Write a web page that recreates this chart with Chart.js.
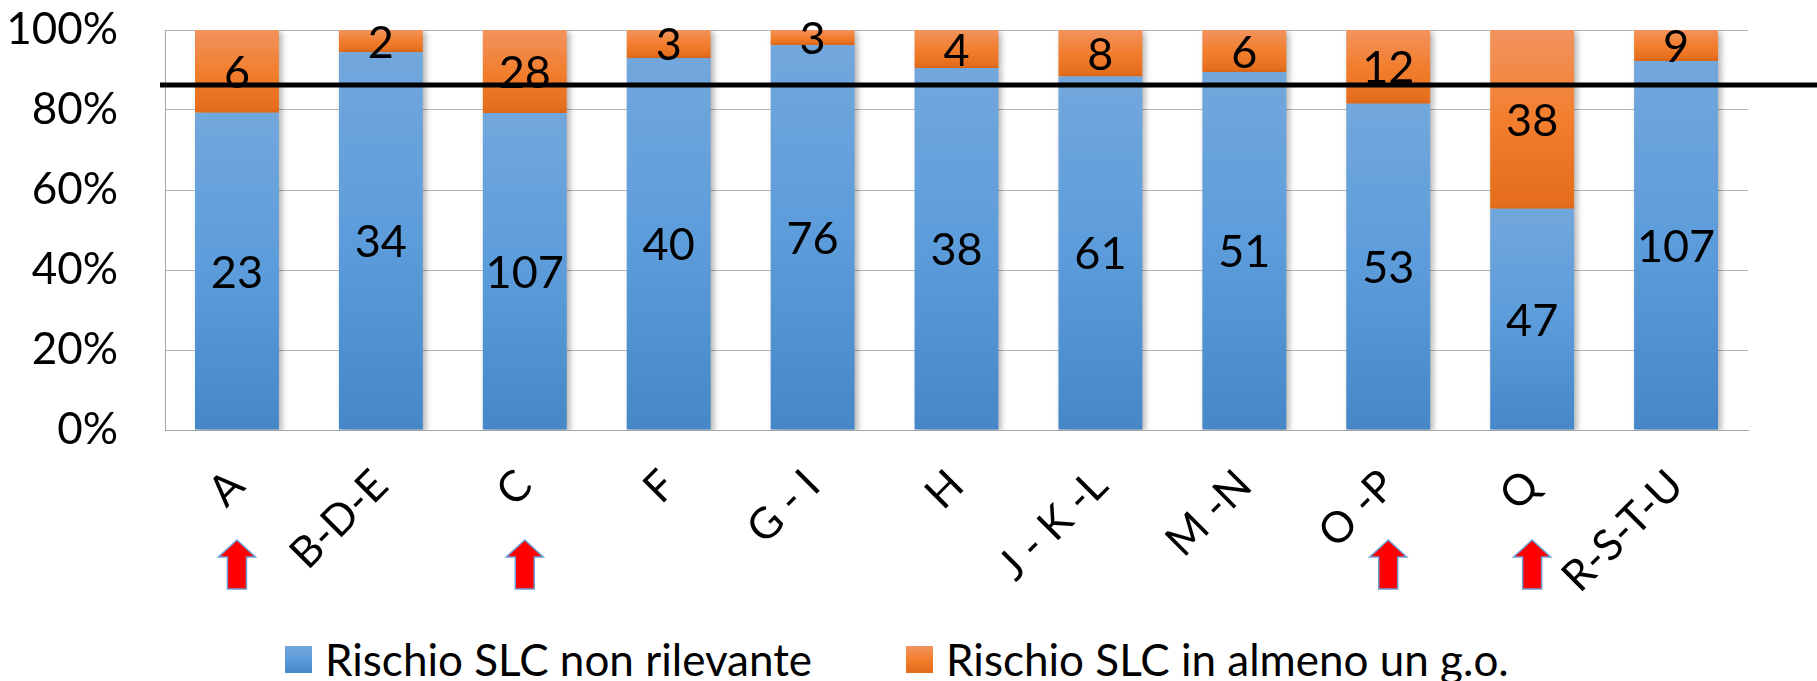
<!DOCTYPE html>
<html lang="it">
<head>
  <meta charset="UTF-8">
  <title>Rischio SLC per settore</title>
  <script src="https://cdn.jsdelivr.net/npm/chart.js"></script>
  <style>
    html, body {
      margin: 0;
      padding: 0;
      background: #fff;
      overflow: hidden;
    }

    body {
      width: 1817px;
      height: 681px;
      position: relative;
      font-family: Lato, 'Open Sans', sans-serif;
    }

    #wrap {
      position: absolute;
      left: 0;
      top: 0;
      width: 1817px;
      height: 620px;
    }

    #legenda {
      position: absolute;
      left: 285px;
      top: 633px;
      display: flex;
      align-items: center;
      gap: 94px;
      font-size: 44px;
      line-height: 53px;
      color: #000;
      white-space: nowrap;
    }

    .voce {
      display: flex;
      align-items: center;
    }

    .box {
      width: 27px;
      height: 27px;
      margin-right: 13px;
    }
  </style>
</head>
<body>

  <div id="wrap"><canvas id="grafico"></canvas></div>
  <div id="legenda"></div>

  <script>
    // dati (numero di aziende per settore)
    const settori = ['A', 'B-D-E', 'C', 'F', 'G - I', 'H', 'J - K -L', 'M -N', 'O -P', 'Q', 'R-S-T-U'];
    const nonRilevante = [23, 34, 107, 40, 76, 38, 61, 51, 53, 47, 107];
    const almenoUnGo = [6, 2, 28, 3, 3, 4, 8, 6, 12, 38, 9];
    const tickY = [0, 20, 40, 60, 80, 100];
    const soglia = 86.25;
    const evidenziati = ['A', 'C', 'O -P', 'Q'];
    const nomiSerie = ['Rischio SLC non rilevante', 'Rischio SLC in almeno un g.o.'];

    const coloriBlu = ['#72A7DC', '#5C9CDB', '#4587C7'];
    const coloriArancio = ['#F2935E', '#F27E2E', '#E46C1A'];

    // percentuali per le barre impilate al 100%
    const pctBlu = nonRilevante.map((v, i) => v / (v + almenoUnGo[i]) * 100);
    const pctArancio = almenoUnGo.map((v, i) => v / (v + nonRilevante[i]) * 100);

    function sfumatura(stops) {
      return function(c) {
        const chart = c.chart;
        if (!chart.chartArea || c.type !== 'data') return stops[1];
        const y = chart.scales.y;
        const i = c.dataIndex;
        const base = c.datasetIndex === 0 ? 0 : pctBlu[i];
        const cima = c.datasetIndex === 0 ? pctBlu[i] : 100;
        const g = chart.ctx.createLinearGradient(0, y.getPixelForValue(cima), 0, y.getPixelForValue(base));
        g.addColorStop(0, stops[0]);
        g.addColorStop(0.5, stops[1]);
        g.addColorStop(1, stops[2]);
        return g;
      };
    }

    // ombra leggera sotto le barre
    const ombra = {
      id: 'ombra',
      beforeDatasetDraw(chart) {
        const ctx = chart.ctx;
        ctx.save();
        ctx.shadowColor = 'rgba(0, 0, 0, 0.3)';
        ctx.shadowBlur = 6;
        ctx.shadowOffsetX = 3;
        ctx.shadowOffsetY = 2;
      },
      afterDatasetDraw(chart) {
        chart.ctx.restore();
      }
    };

    // numeri al centro di ogni segmento
    const etichette = {
      id: 'etichette',
      afterDatasetsDraw(chart) {
        const ctx = chart.ctx;
        ctx.save();
        ctx.font = '45px Lato';
        ctx.fillStyle = '#000';
        ctx.textAlign = 'center';
        ctx.textBaseline = 'middle';
        chart.data.datasets.forEach((ds, d) => {
          chart.getDatasetMeta(d).data.forEach((bar, i) => {
            ctx.fillText(String(ds.conteggi[i]), bar.x, (bar.y + bar.base) / 2 + 2);
          });
        });
        ctx.restore();
      }
    };

    // linea di soglia e frecce rosse
    const annotazioni = {
      id: 'annotazioni',
      afterDraw(chart) {
        const ctx = chart.ctx;
        const area = chart.chartArea;
        const ys = chart.scales.y.getPixelForValue(soglia);
        ctx.save();
        ctx.beginPath();
        ctx.moveTo(area.left - 5, ys);
        ctx.lineTo(chart.width, ys);
        ctx.lineWidth = 5;
        ctx.strokeStyle = '#000';
        ctx.stroke();

        evidenziati.forEach(nome => {
          const cx = chart.scales.x.getPixelForValue(settori.indexOf(nome));
          const b = area.bottom;
          const punta = b + 110, collo = b + 127, coda = b + 159;
          ctx.beginPath();
          ctx.moveTo(cx, punta);
          ctx.lineTo(cx + 18.5, collo);
          ctx.lineTo(cx + 9.5, collo);
          ctx.lineTo(cx + 9.5, coda);
          ctx.lineTo(cx - 9.5, coda);
          ctx.lineTo(cx - 9.5, collo);
          ctx.lineTo(cx - 18.5, collo);
          ctx.closePath();
          ctx.fillStyle = '#FF0000';
          ctx.fill();
          ctx.lineWidth = 1.5;
          ctx.strokeStyle = '#6C9FD8';
          ctx.stroke();
        });
        ctx.restore();
      }
    };

    function disegna() {
      const ctx = document.getElementById('grafico').getContext('2d');
      const grafico = new Chart(ctx, {
        type: 'bar',
        data: {
          labels: settori,
          datasets: [{
            label: nomiSerie[0],
            data: pctBlu,
            conteggi: nonRilevante,
            backgroundColor: sfumatura(coloriBlu),
            borderWidth: 0
          }, {
            label: nomiSerie[1],
            data: pctArancio,
            conteggi: almenoUnGo,
            backgroundColor: sfumatura(coloriArancio),
            borderWidth: 0
          }]
        },
        options: {
          responsive: true,
          maintainAspectRatio: false,
          animation: false,
          events: [],
          categoryPercentage: 1,
          barPercentage: 0.583,
          layout: { padding: { top: 30, right: 69, left: 0, bottom: 0 } },
          plugins: {
            legend: { display: false },
            tooltip: { enabled: false }
          },
          scales: {
            x: {
              stacked: true,
              grid: { display: false, drawTicks: false },
              border: { display: true, color: '#A6A6A6', width: 1 },
              ticks: {
                color: '#000',
                font: { family: 'Lato', size: 43 },
                minRotation: 45,
                maxRotation: 45,
                autoSkip: false,
                padding: 30
              },
              afterFit(s) { s.height = 190; }
            },
            y: {
              stacked: true,
              min: 0,
              max: 100,
              afterBuildTicks(s) { s.ticks = tickY.map(v => ({ value: v })); },
              grid: { color: '#B5B5B5', drawTicks: false },
              border: { display: true, color: '#A6A6A6', width: 1 },
              ticks: {
                color: '#000',
                font: { family: 'Lato', size: 44 },
                padding: 47,
                callback: v => v + '%'
              },
              afterFit(s) {
                s.width = 165;
                // il padding delle etichette non deve spostare l'area del grafico
                s.paddingTop = 0;
                s.paddingBottom = 0;
              }
            }
          }
        },
        plugins: [ombra, etichette, annotazioni]
      });

      // legenda in HTML costruita dai dataset
      const colori = [coloriBlu, coloriArancio];
      const leg = document.getElementById('legenda');
      grafico.data.datasets.forEach((ds, d) => {
        const voce = document.createElement('div');
        voce.className = 'voce';
        const box = document.createElement('span');
        box.className = 'box';
        box.style.background = 'linear-gradient(' + colori[d].join(',') + ')';
        const testo = document.createElement('span');
        testo.textContent = ds.label;
        voce.appendChild(box);
        voce.appendChild(testo);
        leg.appendChild(voce);
      });
    }

    if (document.fonts && document.fonts.load) {
      document.fonts.load('40px Lato').then(disegna, disegna);
    } else {
      disegna();
    }
  </script>

</body>
</html>
